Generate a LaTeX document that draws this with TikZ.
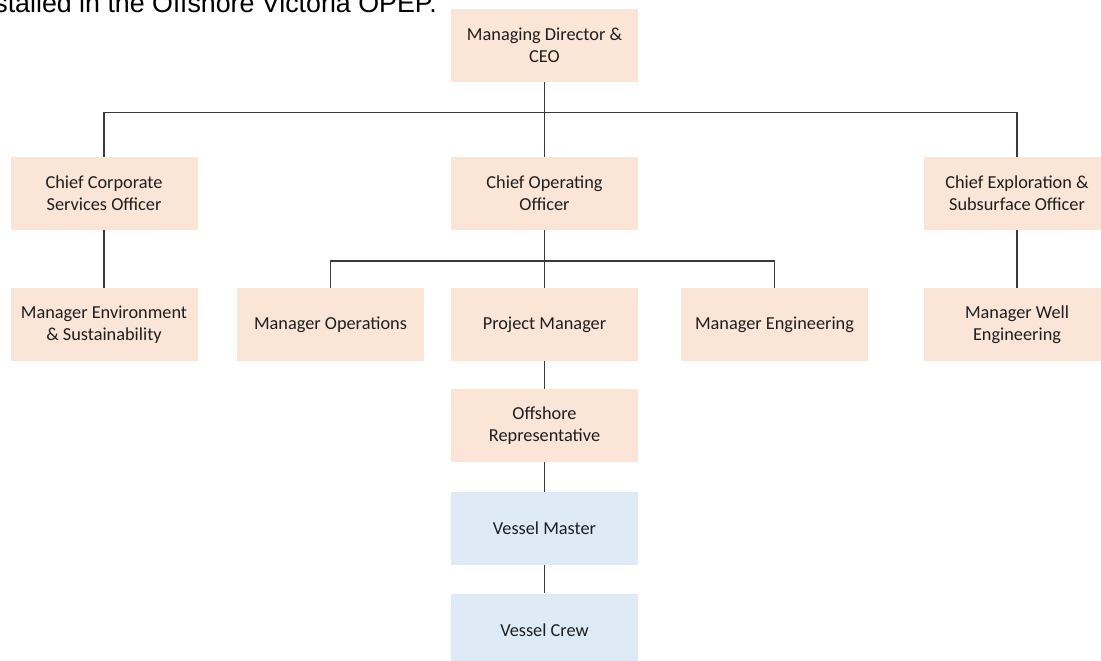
\documentclass[tikz,border=0pt]{standalone}
\usepackage{fontspec}
\setmainfont{Carlito}
\newfontfamily\arialfont{Liberation Sans}
\definecolor{peach}{HTML}{FBE5D6}
\definecolor{paleblue}{HTML}{DEEBF7}
\definecolor{linegray}{HTML}{3A3A3A}
\definecolor{textgray}{HTML}{1E1E1E}
\begin{document}
\begin{tikzpicture}[x=1pt,y=-1pt,
  box/.style={fill=peach, draw=none, minimum width=187pt, minimum height=73pt,
    align=center, inner sep=2pt, text=textgray,
    font=\fontsize{18.3pt}{22pt}\selectfont},
  crewbox/.style={box, fill=paleblue},
  link/.style={draw=linegray, line width=1.5pt}]
\useasboundingbox (0,0) rectangle (1101,661);

% leading sentence, partly above the page edge
\node[anchor=base east, inner sep=0pt, font=\arialfont\fontsize{26.8pt}{30pt}\selectfont, text=black]
  (intro) at (437,12.5) {stalled in the Offshore Victoria OPEP.};

% boxes
\node[box] (ceo)  at (544.5,45.5) {Managing Director \&\\CEO};
\node[box] (cso)  at (104,193.5)  {Chief Corporate\\Services Officer};
\node[box] (coo)  at (544.5,193.5){Chief Operating\\Officer};
\node[box] (ceso) at (1017,193.5) {Chief Exploration \&\\Subsurface Officer};
\node[box] (mes)  at (104,324.5)  {Manager Environment\\\& Sustainability};
\node[box] (mo)   at (330.5,324.5){Manager Operations};
\node[box] (pm)   at (544.5,324.5){Project Manager};
\node[box] (me)   at (774.5,324.5){Manager Engineering};
\node[box] (mwe)  at (1017,324.5) {Manager Well\\Engineering};
\node[box] (osr)  at (544.5,425.5){Offshore\\Representative};
\node[crewbox] (vm) at (544.5,528.5){Vessel Master};
\node[crewbox] (vc) at (544.5,630)  {Vessel Crew};

% bus levels
\coordinate (busA) at (0,112.5);
\coordinate (busB) at (0,261);

% connectors
\draw[link] (ceo.south) -- (coo.north);
\draw[link] (cso.north) -- (cso.north |- busA) -- (ceso.north |- busA) -- (ceso.north);
\draw[link] (cso.south) -- (mes.north);
\draw[link] (ceso.south) -- (mwe.north);
\draw[link] (coo.south) -- (pm.north);
\draw[link] (mo.north) -- (mo.north |- busB) -- (me.north |- busB) -- (me.north);
\draw[link] (pm.south) -- (osr.north);
\draw[link] (osr.south) -- (vm.north);
\draw[link] (vm.south) -- (vc.north);
\end{tikzpicture}
\end{document}
